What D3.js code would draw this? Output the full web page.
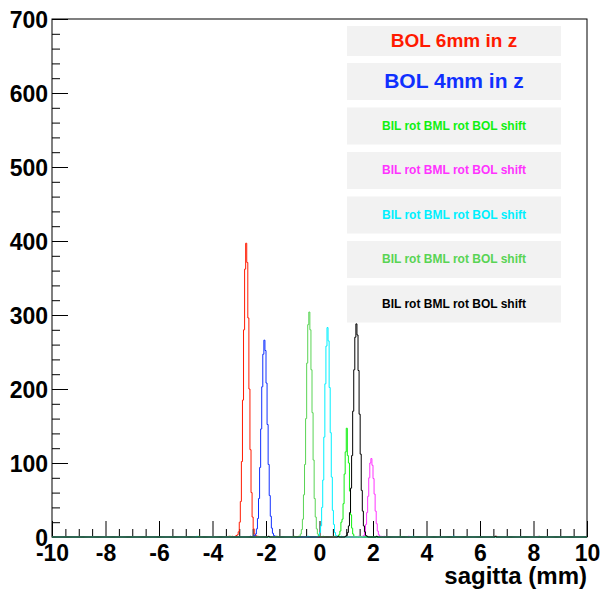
<!DOCTYPE html>
<html>
<head>
<meta charset="utf-8">
<script src="https://cdn.jsdelivr.net/npm/d3@7"></script>
<style>
  html, body { margin: 0; padding: 0; background: #ffffff; }
  svg { display: block; }
  text { font-family: "Liberation Sans", Arial, Helvetica, sans-serif; font-weight: bold; }
</style>
</head>
<body>
<svg id="chart" width="601" height="592"></svg>
<script>
// ---------------- data ----------------
const binWidth = 0.04;           // mm
const xDomain = [-10, 10];
const yDomain = [0, 700];
const xMajorTicks = [-10, -8, -6, -4, -2, 0, 2, 4, 6, 8, 10];
const yMajorTicks = [0, 100, 200, 300, 400, 500, 600, 700];
const xTitle = "sagitta (mm)";

const legendLabels = [
  "BOL 6mm in z",
  "BOL 4mm in z",
  "BIL rot BML rot BOL shift",
  "BIL rot BML rot BOL shift",
  "BIL rot BML rot BOL shift",
  "BIL rot BML rot BOL shift",
  "BIL rot BML rot BOL shift"
];

// left edge (mm) of the first listed bin of each histogram peak
const peakStarts = [-3.16, -2.48, 0.68, 1.60, -0.08, -0.80, 0.96];

const redCounts     = [1,2,3,7,20,48,102,185,280,362,397,371,296,200,118,60,27,11,4,2,1,1];
const blueCounts    = [1,2,4,11,25,52,94,146,203,247,266,252,208,152,98,56,28,12,5,2,1];
const greenCounts   = [1,3,8,20,24,45,85,115,147,110,100,62,30,12,4,1];
const magentaCounts = [1,2,7,17,33,55,80,100,106,97,79,58,35,18,8,3,1,1];
const cyanCounts    = [1,2,6,15,40,77,135,207,258,283,265,202,141,81,36,17,6,2,1];
const lgreenCounts  = [1,1,4,10,24,57,98,160,235,287,304,280,226,168,104,52,27,11,4,1,1];
const blackCounts   = [1,2,6,15,33,66,110,170,226,270,288,273,225,166,112,63,35,15,6,2,1];

// isolated single entries (mm) far from the peaks
const redTails     = [-3.40, -3.28, 6.60];
const blueTails    = [-2.60, -1.64, 5.00];
const greenTails   = [-3.36, 0.52, 1.52, 3.00, 8.20];
const magentaTails = [1.44, 2.40, 3.32, 8.16];
const cyanTails    = [-4.60, -0.44, 0.80, 3.48, 5.00];
const lgreenTails  = [-4.52, -1.60, -0.96, 0.14];
const blackTails   = [-1.92, 0.70, 1.70, 2.12, 6.56];

const allCounts = [redCounts, blueCounts, greenCounts, magentaCounts, cyanCounts, lgreenCounts, blackCounts];
const allTails  = [redTails, blueTails, greenTails, magentaTails, cyanTails, lgreenTails, blackTails];

// ---------------- styles ----------------
const colors = ["#ff1a00", "#1030ff", "#10f010", "#ff33ff", "#00f0ff", "#59d454", "#000000"];
const legendFontSizes = [19, 21, 12, 12, 12, 12, 12];

// ---------------- layout ----------------
const svg = d3.select("#chart");
const plotLeft = 52, plotRight = 587, plotTop = 19, plotBottom = 537;

const x = d3.scaleLinear().domain(xDomain).range([plotLeft, plotRight]);
const y = d3.scaleLinear().domain(yDomain).range([plotBottom, plotTop]);

// minor ticks
const xMinor = d3.range(-10, 10.001, 0.5).filter(v => Math.abs(v / 2 - Math.round(v / 2)) > 1e-6);
const yMinor = d3.range(0, 700.001, 20).filter(v => v % 100 !== 0);

const axisG = svg.append("g");

// x minor
axisG.append("g")
  .attr("transform", `translate(0,${plotBottom})`)
  .call(d3.axisBottom(x).tickValues(xMinor).tickSize(-8).tickSizeOuter(0).tickFormat(""))
  .call(g => g.select(".domain").remove())
  .call(g => g.selectAll("line").attr("stroke", "#000"));

// x major
const xAx = axisG.append("g")
  .attr("transform", `translate(0,${plotBottom})`)
  .call(d3.axisBottom(x).tickValues(xMajorTicks).tickSize(-16).tickSizeOuter(0).tickFormat(d3.format("d")));
xAx.select(".domain").remove();
xAx.selectAll("line").attr("stroke", "#000");
xAx.selectAll("text")
  .attr("y", 23.5).attr("dy", null)
  .attr("font-size", 23).attr("fill", "#000")
  .attr("font-family", "Liberation Sans, Arial, sans-serif").attr("font-weight", "bold")
  .text(d => d < 0 ? "-" + Math.abs(d) : String(d));

// y minor
axisG.append("g")
  .attr("transform", `translate(${plotLeft},0)`)
  .call(d3.axisLeft(y).tickValues(yMinor).tickSize(-8).tickSizeOuter(0).tickFormat(""))
  .call(g => g.select(".domain").remove())
  .call(g => g.selectAll("line").attr("stroke", "#000"));

// y major
const yAx = axisG.append("g")
  .attr("transform", `translate(${plotLeft},0)`)
  .call(d3.axisLeft(y).tickValues(yMajorTicks).tickSize(-16).tickPadding(4).tickSizeOuter(0).tickFormat(d3.format("d")));
yAx.select(".domain").remove();
yAx.selectAll("line").attr("stroke", "#000");
yAx.selectAll("text")
  .attr("dy", 8)
  .attr("font-size", 23).attr("fill", "#000")
  .attr("font-family", "Liberation Sans, Arial, sans-serif").attr("font-weight", "bold");

// frame
svg.append("rect")
  .attr("x", plotLeft).attr("y", plotTop)
  .attr("width", plotRight - plotLeft).attr("height", plotBottom - plotTop)
  .attr("fill", "none").attr("stroke", "#000").attr("stroke-width", 1);

// x title
svg.append("text")
  .attr("x", plotRight).attr("y", 584)
  .attr("text-anchor", "end")
  .attr("font-size", 24)
  .attr("fill", "#000")
  .text(xTitle);

// ---------------- histograms ----------------
const nBins = Math.round((xDomain[1] - xDomain[0]) / binWidth);
function buildBins(start, counts, tails) {
  const bins = new Array(nBins).fill(0);
  const i0 = Math.round((start - xDomain[0]) / binWidth);
  counts.forEach((c, k) => { if (i0 + k >= 0 && i0 + k < nBins) bins[i0 + k] += c; });
  tails.forEach(t => {
    const i = Math.floor((t - xDomain[0]) / binWidth + 1e-9);
    if (i >= 0 && i < nBins) bins[i] += 1;
  });
  const pts = bins.map((c, i) => [xDomain[0] + i * binWidth, c]);
  pts.push([xDomain[1], bins[nBins - 1]]);
  return pts;
}

const line = d3.line()
  .x(d => x(d[0]))
  .y(d => y(d[1]))
  .curve(d3.curveStepAfter);

const histG = svg.append("g");
allCounts.forEach((counts, s) => {
  const pts = buildBins(peakStarts[s], counts, allTails[s]);
  histG.append("path")
    .datum(pts)
    .attr("d", line)
    .attr("fill", "none")
    .attr("stroke", colors[s])
    .attr("stroke-width", 1);
});

// ---------------- legend boxes ----------------
const boxX = 347, boxW = 214;
const legendG = svg.append("g");
legendLabels.forEach((lab, i) => {
  let bTop, bH, base;
  if (i === 0) { bTop = 26; bH = 30; base = 46.7; }
  else {
    bTop = 63 + (i - 1) * 44.5; bH = 37;
    base = i === 1 ? 87.7 : bTop + 22.3;
  }
  legendG.append("rect")
    .attr("x", boxX).attr("y", bTop)
    .attr("width", boxW).attr("height", bH)
    .attr("fill", "#f2f2f2");
  legendG.append("text")
    .attr("x", boxX + boxW / 2).attr("y", base)
    .attr("text-anchor", "middle")
    .attr("font-size", legendFontSizes[i])
    .attr("fill", colors[i])
    .text(lab);
});
</script>
</body>
</html>
